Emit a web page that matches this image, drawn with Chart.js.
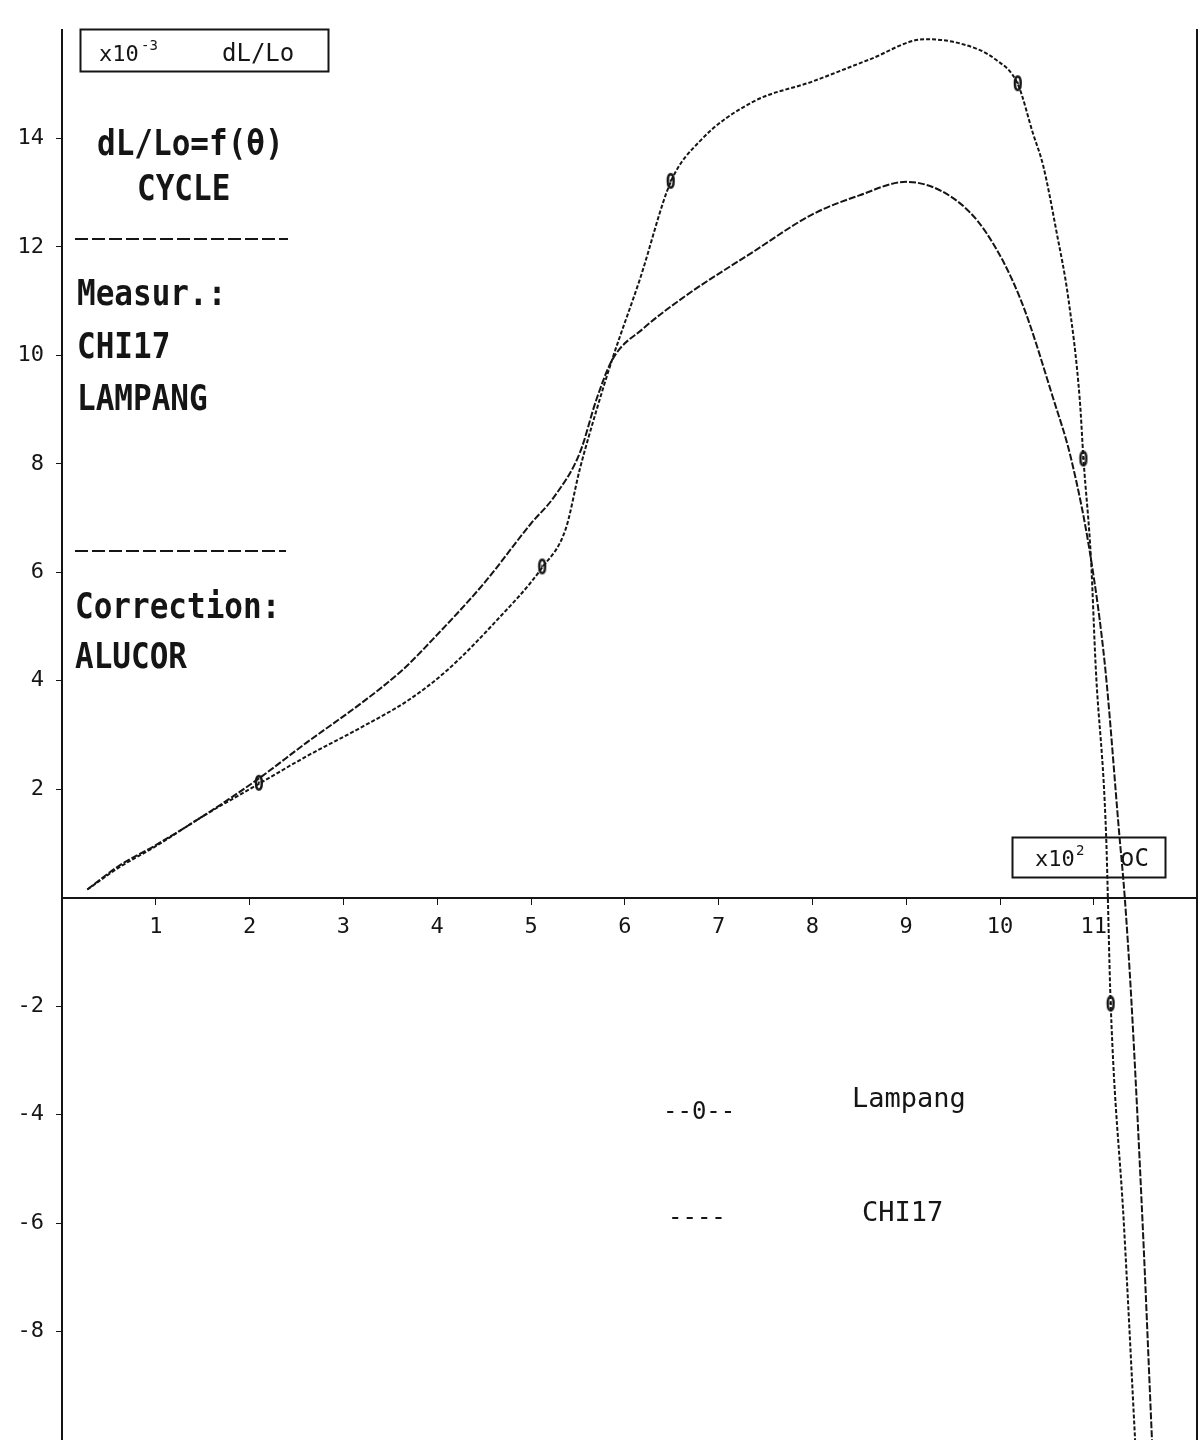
<!DOCTYPE html>
<html>
<head>
<meta charset="utf-8">
<title>dL/Lo = f(θ) CYCLE</title>
<script src="https://cdn.jsdelivr.net/npm/chart.js@4.4.1/dist/chart.umd.min.js"></script>
<style>
  html, body { margin: 0; padding: 0; background: #fff; }
  canvas { display: block; }
</style>
</head>
<body>
<canvas id="dilatChart" width="1199" height="1440"></canvas>
<script>
// temperature in x10^2 oC, dL/Lo in x10^-3
const lampangX = [0.27, 0.6, 1.0, 1.5, 2.1, 2.6, 3.2, 3.7, 4.11, 4.6, 5.12, 5.37, 5.52, 5.7, 5.87, 6.16, 6.49, 6.8, 7.36, 8.0, 8.6, 9.2, 9.6, 9.95, 10.19, 10.35, 10.46, 10.6, 10.73, 10.85, 10.89, 10.97, 11.02, 11.13, 11.18, 11.32, 11.44];
const lampangY = [0.15, 0.55, 0.95, 1.5, 2.1, 2.6, 3.15, 3.65, 4.2, 5.05, 6.09, 6.8, 7.9, 9.0, 9.95, 11.4, 13.2, 13.95, 14.67, 15.05, 15.45, 15.83, 15.74, 15.46, 15.0, 14.1, 13.5, 12.3, 11.03, 9.19, 8.08, 6.24, 4.26, 1.2, -1.97, -6, -10];
// indexes of the Lampang points that carry the plotter's "0" mark
const lampangMarks = [4, 10, 16, 24, 30, 34];

const chiX = [0.27, 0.6, 1.0, 1.5, 2.1, 2.6, 3.2, 3.63, 4.0, 4.5, 5.0, 5.25, 5.52, 5.7, 5.87, 6.2, 6.65, 7.36, 8.0, 8.5, 9.0, 9.5, 9.85, 10.22, 10.57, 10.76, 10.97, 11.12, 11.27, 11.33, 11.4, 11.52, 11.62];
const chiY = [0.15, 0.58, 0.97, 1.5, 2.2, 2.85, 3.6, 4.2, 4.85, 5.8, 6.9, 7.4, 8.2, 9.2, 9.93, 10.5, 11.1, 11.9, 12.6, 12.95, 13.2, 12.9, 12.27, 11.03, 9.19, 8.08, 6.24, 4.26, 1.2, 0, -1.88, -6, -10];

const xTicks = [1, 2, 3, 4, 5, 6, 7, 8, 9, 10, 11];
const yTicks = [-8, -6, -4, -2, 2, 4, 6, 8, 10, 12, 14];

const MONO = '"DejaVu Sans Mono", "Liberation Mono", monospace';
const INK = '#151515';

// little "0" glyph used by the plotter as a marker
function makeZeroMark() {
    const c = document.createElement('canvas');
    c.width = 16;
    c.height = 22;
    const g = c.getContext('2d');
    g.translate(8, 12);
    g.scale(0.9, 1.15);
    g.font = 'bold 19px ' + MONO;
    g.textAlign = 'center';
    g.textBaseline = 'middle';
    g.fillStyle = INK;
    g.fillText('0', 0, 0);
    return c;
}
const zeroMark = makeZeroMark();

function pairs(xs, ys) {
    return xs.map((x, i) => ({ x: x, y: ys[i] }));
}

// tall bold plotter lettering
function tallText(ctx, str, x, y) {
    ctx.save();
    ctx.translate(x, y);
    ctx.scale(1, 1.15);
    ctx.font = 'bold 31px ' + MONO;
    ctx.fillText(str, 0, 0);
    ctx.restore();
}

const plotterNotes = {
    id: 'plotterNotes',
    afterDatasetsDraw(chart) {
        const ctx = chart.ctx;
        ctx.save();
        ctx.fillStyle = INK;
        ctx.strokeStyle = INK;
        ctx.textBaseline = 'alphabetic';
        ctx.textAlign = 'left';

        // y unit box
        ctx.lineWidth = 2;
        ctx.strokeRect(80.5, 29.5, 248, 42);
        ctx.font = '22px ' + MONO;
        ctx.fillText('x10', 99, 61);
        ctx.font = '14px ' + MONO;
        ctx.fillText('-3', 141, 50);
        ctx.font = '24px ' + MONO;
        ctx.fillText('dL/Lo', 222, 61);

        // x unit box
        ctx.strokeRect(1012.5, 837.5, 153, 40);
        ctx.font = '22px ' + MONO;
        ctx.fillText('x10', 1035, 866);
        ctx.font = '14px ' + MONO;
        ctx.fillText('2', 1076, 855);
        ctx.font = '24px ' + MONO;
        ctx.fillText('oC', 1120, 866);

        // title block
        tallText(ctx, 'dL/Lo=f(θ)', 97, 155);
        tallText(ctx, 'CYCLE', 137, 200);
        tallText(ctx, 'Measur.:', 77, 305);
        tallText(ctx, 'CHI17', 77, 358);
        tallText(ctx, 'LAMPANG', 77, 410);
        tallText(ctx, 'Correction:', 75, 618);
        tallText(ctx, 'ALUCOR', 75, 668);

        ctx.lineWidth = 2;
        ctx.setLineDash([13, 4]);
        ctx.beginPath();
        ctx.moveTo(75, 239);
        ctx.lineTo(288, 239);
        ctx.moveTo(75, 551);
        ctx.lineTo(286, 551);
        ctx.stroke();
        ctx.setLineDash([]);

        // legend written by the plotter
        ctx.font = '24px ' + MONO;
        ctx.fillText('--0--', 663, 1119);
        ctx.fillText('----', 668, 1225);
        ctx.font = '27px ' + MONO;
        ctx.fillText('Lampang', 852, 1107);
        ctx.fillText('CHI17', 862, 1221);
        ctx.restore();
    }
};

const ctx = document.getElementById('dilatChart');

new Chart(ctx, {
    type: 'scatter',
    data: {
        datasets: [{
            label: 'Lampang',
            data: pairs(lampangX, lampangY),
            showLine: true,
            borderColor: INK,
            borderWidth: 2,
            borderDash: [4, 2],
            cubicInterpolationMode: 'monotone',
            pointStyle: zeroMark,
            pointRadius: c => lampangMarks.includes(c.dataIndex) ? 7 : 0,
            pointHoverRadius: 0
        }, {
            label: 'CHI17',
            data: pairs(chiX, chiY),
            showLine: true,
            borderColor: INK,
            borderWidth: 2,
            borderDash: [7, 2],
            cubicInterpolationMode: 'monotone',
            pointRadius: 0,
            pointHoverRadius: 0
        }]
    },
    options: {
        responsive: false,
        animation: false,
        layout: {
            padding: { top: 30, left: 0, right: 0, bottom: 0 }
        },
        plugins: {
            legend: { display: false },
            tooltip: { enabled: false }
        },
        scales: {
            x: {
                type: 'linear',
                min: 0,
                max: 12.1,
                position: { y: 0 },
                afterBuildTicks: s => { s.ticks = xTicks.map(v => ({ value: v })); },
                afterFit: s => { s.paddingLeft = 0; s.paddingRight = 0; },
                ticks: {
                    autoSkip: false,
                    maxRotation: 0,
                    padding: 10,
                    color: INK,
                    font: { family: MONO, size: 22 }
                },
                grid: { drawOnChartArea: false, tickLength: 6, color: INK, lineWidth: 1 },
                border: { color: INK, width: 2 }
            },
            y: {
                type: 'linear',
                min: -10,
                max: 16,
                position: 'left',
                afterBuildTicks: s => { s.ticks = yTicks.map(v => ({ value: v })); },
                afterFit: s => { s.width = 62; s.paddingTop = 0; s.paddingBottom = 0; },
                ticks: {
                    padding: 12,
                    color: INK,
                    font: { family: MONO, size: 22 }
                },
                grid: { drawOnChartArea: false, tickLength: 6, color: INK, lineWidth: 1 },
                border: { color: INK, width: 2 }
            },
            yRight: {
                type: 'linear',
                min: -10,
                max: 16,
                position: 'right',
                afterFit: s => { s.width = 2; s.paddingTop = 0; s.paddingBottom = 0; },
                ticks: { display: false },
                grid: { display: false },
                border: { color: INK, width: 2 }
            }
        }
    },
    plugins: [plotterNotes]
});
</script>
</body>
</html>
